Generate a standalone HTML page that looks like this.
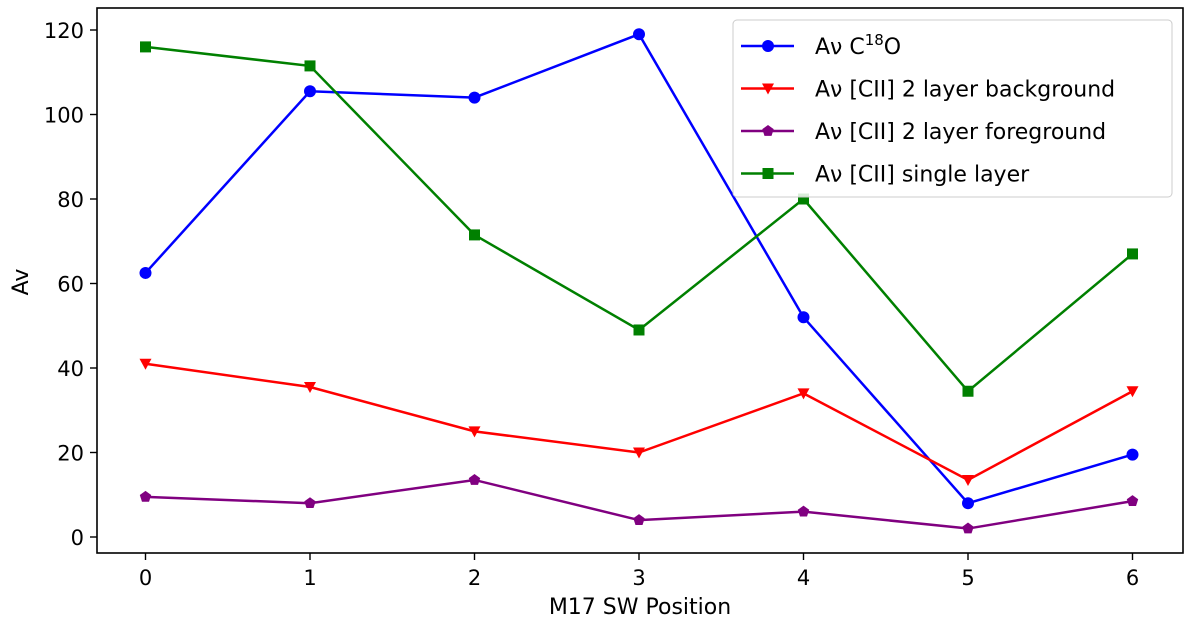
<!DOCTYPE html>
<html><head><meta charset="utf-8"><style>
body{margin:0;background:#fff;}
svg text{font-family:"DejaVu Sans","Liberation Sans",sans-serif;fill:#000;}
</style></head><body>
<svg width="1200" height="627" id="chart">
<rect x="97" y="8" width="1086" height="545" fill="none" stroke="#000" stroke-width="1.6"/>
<g id="ticks"></g>
<g id="series"></g>
<text x="640" y="614" font-size="22" text-anchor="middle">M17 SW Position</text>
<text x="28" y="282" font-size="22" text-anchor="middle" transform="rotate(-90 28 282)">Av</text>
<g>
<rect x="733" y="20" width="439" height="177" rx="4" fill="#fff" fill-opacity="0.85" stroke="#ccc"/>
<g id="legend"></g>
</g>
</svg>
<script>
const categories=[0,1,2,3,4,5,6];
const yTicks=[0,20,40,60,80,100,120];
const c18o=[62.5,105.5,104,119,52,8,19.5];
const bg=[41,35.5,25,20,34,13.5,34.5];
const fg=[9.5,8,13.5,4,6,2,8.5];
const single=[116,111.5,71.5,49,80,34.5,67];
const labels=["Aν C18O","Aν [CII] 2 layer background","Aν [CII] 2 layer foreground","Aν [CII] single layer"];
const NS="http://www.w3.org/2000/svg";
const X=v=>145.5+v*164.5;
const Y=v=>537-v*4.225;
function mk(t,a,p){const e=document.createElementNS(NS,t);for(const k in a)e.setAttribute(k,a[k]);p.appendChild(e);return e;}
const tk=document.getElementById('ticks');
categories.forEach(c=>{
 const l=mk('line',{x1:X(c),x2:X(c),y1:553,y2:560,stroke:'#000','stroke-width':1.4},tk);
 
 
 const t=mk('text',{x:X(c),y:585,'font-size':21,'text-anchor':'middle'},tk);t.textContent=c;
 
 
});
yTicks.forEach(v=>{
 const l=mk('line',{x1:90,x2:97,y1:Y(v),y2:Y(v),stroke:'#000','stroke-width':1.4},tk);
 
 
 const t=mk('text',{x:84,y:Y(v)+8,'font-size':21,'text-anchor':'end'},tk);t.textContent=v;
 
 
});
function marker(type,x,y,col,p){
 let e;
 if(type==='o')e=mk('circle',{cx:x,cy:y,r:6,fill:col},p);
 else if(type==='v')e=mk('polygon',{points:`${x-6},${y-5} ${x+6},${y-5} ${x},${y+6}`,fill:col},p);
 else if(type==='p'){let pts=[];for(let i=0;i<5;i++){const a=-Math.PI/2+i*2*Math.PI/5;pts.push((x+6*Math.cos(a))+','+(y+6*Math.sin(a)));}e=mk('polygon',{points:pts.join(' '),fill:col},p);}
 else e=mk('rect',{x:x-5.5,y:y-5.5,width:11,height:11,fill:col},p);
 return e;
}
const series=[[c18o,'#0000ff','o','c18o'],[bg,'#ff0000','v','cii-background'],[fg,'#800080','p','cii-foreground'],[single,'#008000','s','cii-single']];
const sg=document.getElementById('series');
series.forEach(([d,col,m,n])=>{
 const g=mk('g',{},sg);
 
 
 const pl=mk('polyline',{points:d.map((v,i)=>X(categories[i])+','+Y(v)).join(' '),fill:'none',stroke:col,'stroke-width':2.5},g);
 
 
 d.forEach((v,i)=>{const e=marker(m,X(categories[i]),Y(v),col,g);
  
  });
});
const lg=document.getElementById('legend');
series.forEach(([d,col,m,n],i)=>{
 const y=46+i*42.5;
 const g=mk('g',{},lg);
 
 
 mk('line',{x1:741,x2:794,y1:y,y2:y,stroke:col,'stroke-width':2.5},g);
 marker(m,768,y,col,g);
 const t=mk('text',{x:815,y:y+8,'font-size':22},g);
 if(i===0){t.innerHTML='Aν C<tspan font-size="15" dy="-9">18</tspan><tspan dy="9">O</tspan>';}
 else t.textContent=labels[i];
});
</script>
</body></html>
